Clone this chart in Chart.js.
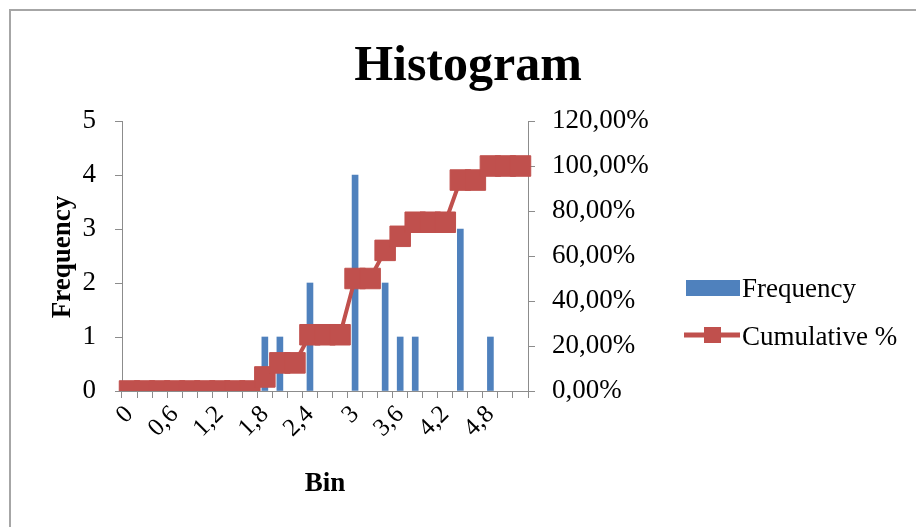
<!DOCTYPE html>
<html>
<head>
<meta charset="utf-8">
<script src="https://cdn.jsdelivr.net/npm/chart.js@4/dist/chart.umd.min.js"></script>
<style>
  html, body { margin: 0; padding: 0; background: #ffffff; overflow: hidden; }
  #wrap { position: relative; width: 916px; height: 527px; }
</style>
</head>
<body>
<div id="wrap"><canvas id="c" width="916" height="527"></canvas></div>
<script>
// Histogram bins (upper bounds), decimal comma
const bins = ['0','0,2','0,4','0,6','0,8','1','1,2','1,4','1,6','1,8',
              '2','2,2','2,4','2,6','2,8','3','3,2','3,4','3,6','3,8',
              '4','4,2','4,4','4,6','4,8','5','5,2'];

// Count of values falling in each bin
const frequency = [0,0,0,0,0,0,0,0,0,1,
                   1,0,2,0,0,4,0,2,1,1,
                   0,0,3,0,1,0,0];

// Running share of all values, in percent
const cumulativePct = [0,0,0,0,0,0,0,0,0,6.25,
                       12.5,12.5,25,25,25,50,50,62.5,68.75,75,
                       75,75,93.75,93.75,100,100,100];

// Every third bin gets a label on the category axis
const labelEvery = 3;

const leftTicks = { min: 0, max: 5, step: 1 };
const rightTicks = { min: 0, max: 120, step: 20 };

const BLUE = '#4F81BD';
const RED = '#C0504D';
const AXIS = '#8c8c8c';
const SERIF = '"Liberation Serif", "DejaVu Serif", serif';

const decorations = {
  id: 'decorations',
  afterDraw(chart) {
    const ctx = chart.ctx;
    ctx.save();
    // frame
    ctx.strokeStyle = '#a6a6a6';
    ctx.lineWidth = 2;
    ctx.beginPath();
    ctx.moveTo(10, 527);
    ctx.lineTo(10, 10);
    ctx.lineTo(916, 10);
    ctx.stroke();

    ctx.fillStyle = '#000';
    // title
    ctx.font = 'bold 50px ' + SERIF;
    ctx.textAlign = 'center';
    ctx.textBaseline = 'alphabetic';
    ctx.fillText('Histogram', 468, 80);

    // axis titles
    ctx.font = 'bold 27px ' + SERIF;
    ctx.fillText('Bin', 325, 491);
    ctx.save();
    ctx.translate(70, 257);
    ctx.rotate(-Math.PI / 2);
    ctx.fillText('Frequency', 0, 0);
    ctx.restore();

    // legend
    ctx.textAlign = 'left';
    ctx.font = '27px ' + SERIF;
    ctx.fillStyle = BLUE;
    ctx.fillRect(686, 280, 54, 16);
    ctx.fillStyle = '#000';
    ctx.fillText('Frequency', 742, 297);

    ctx.strokeStyle = RED;
    ctx.lineWidth = 5;
    ctx.beginPath();
    ctx.moveTo(684, 335);
    ctx.lineTo(740, 335);
    ctx.stroke();
    ctx.fillStyle = RED;
    ctx.fillRect(704, 327, 17, 16);
    ctx.fillStyle = '#000';
    ctx.fillText('Cumulative %', 742, 345);
    ctx.restore();
  }
};

new Chart(document.getElementById('c'), {
  type: 'bar',
  data: {
    labels: bins,
    datasets: [
      {
        type: 'line',
        label: 'Cumulative %',
        data: cumulativePct,
        yAxisID: 'y1',
        borderColor: RED,
        borderWidth: 4,
        backgroundColor: RED,
        pointStyle: 'rect',
        pointRadius: 14.5,
        pointBackgroundColor: RED,
        pointBorderColor: RED,
        pointBorderWidth: 1,
        tension: 0,
        fill: false,
        order: 0
      },
      {
        type: 'bar',
        label: 'Frequency',
        data: frequency,
        yAxisID: 'y',
        // empty bins get no visible sliver on the axis
        backgroundColor: (c) => (c.raw > 0 ? BLUE : 'rgba(0,0,0,0)'),
        barThickness: 6,
        order: 1
      }
    ]
  },
  options: {
    responsive: false,
    animation: false,
    devicePixelRatio: 1,
    layout: { padding: { top: 121, left: 0, right: 0, bottom: 0 } },
    plugins: { legend: { display: false }, tooltip: { enabled: false }, title: { display: false } },
    scales: {
      x: {
        type: 'category',
        offset: true,
        grid: { offset: true, drawOnChartArea: false, drawTicks: true, tickLength: 7, color: AXIS },
        border: { display: true, color: AXIS, width: 1 },
        ticks: {
          autoSkip: false,
          minRotation: 45,
          maxRotation: 45,
          padding: 2,
          color: '#000',
          font: { family: SERIF, size: 25 },
          callback: (v, i) => (i % labelEvery === 0 ? bins[i] : '')
        },
        afterFit: (s) => { s.height = 136; }
      },
      y: {
        position: 'left',
        min: leftTicks.min,
        max: leftTicks.max,
        grid: { drawOnChartArea: false, drawTicks: true, tickLength: 7, color: AXIS },
        border: { display: true, color: AXIS, width: 1 },
        ticks: {
          stepSize: leftTicks.step,
          padding: 19,
          color: '#000',
          font: { family: SERIF, size: 27 }
        },
        afterFit: (s) => { s.width = 122; }
      },
      y1: {
        position: 'right',
        min: rightTicks.min,
        max: rightTicks.max,
        grid: { drawOnChartArea: false, drawTicks: true, tickLength: 7, color: AXIS },
        border: { display: true, color: AXIS, width: 1 },
        ticks: {
          stepSize: rightTicks.step,
          padding: 17,
          color: '#000',
          font: { family: SERIF, size: 27 },
          callback: (v) => v.toFixed(2).replace('.', ',') + '%'
        },
        afterFit: (s) => { s.width = 388; }
      }
    }
  },
  plugins: [decorations]
});
</script>
</body>
</html>
